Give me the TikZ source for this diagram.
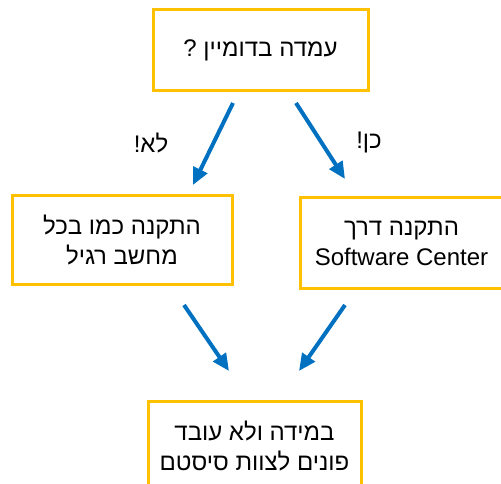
\documentclass[tikz,border=0pt]{standalone}
\usepackage{fontspec}
\setmainfont{Liberation Sans}
\newfontfamily\hebfont[Script=Hebrew]{Liberation Sans}
\usetikzlibrary{arrows.meta}
\TeXXeTstate=1
\definecolor{boxgold}{HTML}{FFC000}
\definecolor{arrowblue}{HTML}{0070C0}
\newcommand{\heb}[1]{\beginR #1\endR}

\begin{document}
\begin{tikzpicture}[x=1pt,y=-1pt]
	\tikzstyle{every node}+=[inner sep=0pt, font=\hebfont\fontsize{24}{30}\selectfont]
	\tikzstyle{box}=[draw=boxgold, line width=3pt, align=center, fill=white]
	\tikzstyle{flow}=[arrowblue, line width=4pt, -{Triangle[length=17pt,width=15pt]}]
	\useasboundingbox (0,0) rectangle (501,484);
	% boxes
	\node [box, minimum width=215pt, minimum height=81pt] (domain) at (260.5,50.5) {\heb{עמדה בדומיין ?}};
	\node [box, minimum width=220pt, minimum height=88pt] (regular) at (122,240) {\heb{התקנה כמו בכל}\\\heb{מחשב רגיל}};
	\node [box, minimum width=203pt, minimum height=90pt] (center) at (401.5,243) {\heb{התקנה דרך}\\Software Center};
	\node [box, minimum width=213pt, minimum height=90pt] (system) at (254.5,446) {\heb{במידה ולא עובד}\\\heb{פונים לצוות סיסטם}};
	% labels
	\node (noLabel) at (151,143) {\heb{לא!}};
	\node (yesLabel) at (369,143) {\heb{כן!}};
	% arrows
	\coordinate (noStart) at (233,103);
	\coordinate (noEnd) at (193,185);
	\coordinate (yesStart) at (296,103);
	\coordinate (yesEnd) at (345,179);
	\coordinate (regStart) at (184,305);
	\coordinate (regEnd) at (229,371);
	\coordinate (scStart) at (345,305);
	\coordinate (scEnd) at (299,371);
	\draw [flow] (noStart) -- (noEnd);
	\draw [flow] (yesStart) -- (yesEnd);
	\draw [flow] (regStart) -- (regEnd);
	\draw [flow] (scStart) -- (scEnd);
\end{tikzpicture}
\end{document}
